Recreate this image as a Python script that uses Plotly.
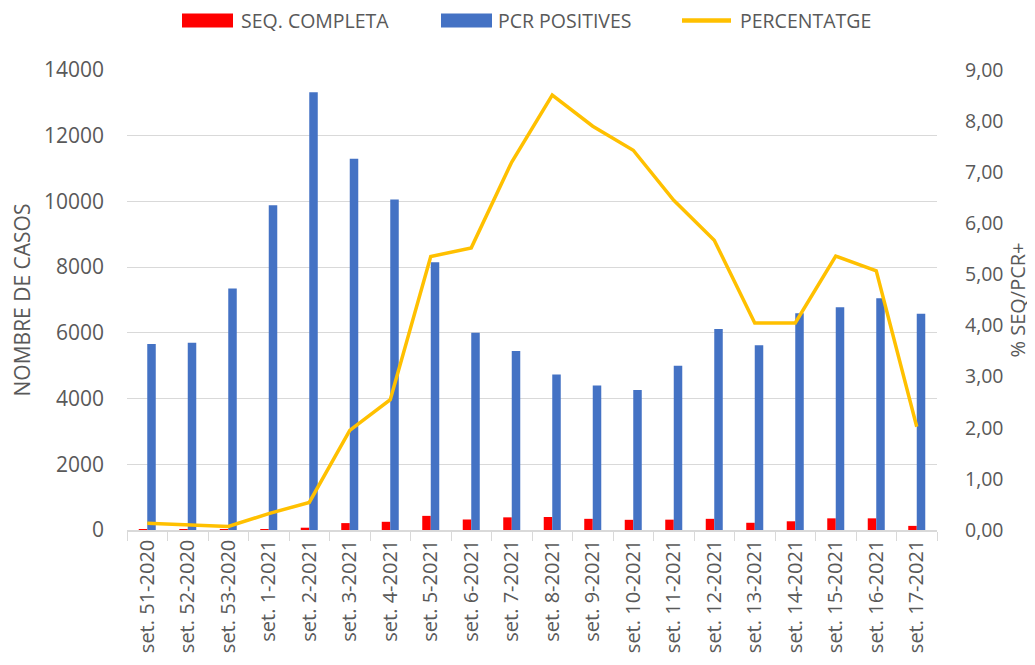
import plotly.graph_objects as go

categories = ["set. 51-2020", "set. 52-2020", "set. 53-2020", "set. 1-2021", "set. 2-2021",
              "set. 3-2021", "set. 4-2021", "set. 5-2021", "set. 6-2021", "set. 7-2021",
              "set. 8-2021", "set. 9-2021", "set. 10-2021", "set. 11-2021", "set. 12-2021",
              "set. 13-2021", "set. 14-2021", "set. 15-2021", "set. 16-2021", "set. 17-2021"]
seq_completa = [7, 6, 5, 30, 70, 210, 250, 430, 320, 385, 395, 340, 310, 315, 340, 220, 265, 355, 355, 125]
pcr_positives = [5660, 5700, 7350, 9880, 13320, 11300, 10060, 8150, 6000, 5450,
                 4730, 4400, 4260, 5000, 6120, 5620, 6600, 6780, 7050, 6580]
percentatge = [0.13, 0.10, 0.07, 0.32, 0.54, 1.95, 2.55, 5.35, 5.52, 7.20,
               8.51, 7.90, 7.43, 6.45, 5.67, 4.05, 4.05, 5.36, 5.07, 2.02]
series_names = ["SEQ. COMPLETA", "PCR POSITIVES", "PERCENTATGE"]
series_colors = ["#FF0000", "#4472C4", "#FFC000"]

font_family = "Open Sans, Liberation Sans, sans-serif"
grey = "#595959"

# page has an 8px body margin; plot area on page spans x 127..937, y 70..530
PL, PR, PT, PB = 127, 937, 70, 530
W, H = 1027, 657


def px(x):
    return (x - PL) / (PR - PL)


def py(y):
    return (PB - y) / (PB - PT)


fig = go.Figure()
fig.add_trace(go.Bar(x=categories, y=seq_completa, name=series_names[0], showlegend=False,
                     marker=dict(color=series_colors[0], line=dict(width=0))))
fig.add_trace(go.Bar(x=categories, y=pcr_positives, name=series_names[1], showlegend=False,
                     marker=dict(color=series_colors[1], line=dict(width=0))))
fig.add_trace(go.Scatter(x=categories, y=percentatge, name=series_names[2], yaxis="y2",
                         showlegend=False, mode="lines",
                         line=dict(color=series_colors[2], width=3.5)))

# custom legend (wide swatches like the original)
legend_swatch_x = [182, 441, 680]
legend_text_x = [240, 497, 739]
legend_y = 20.5
shapes = []
annotations = []
for i, name in enumerate(series_names):
    x0 = legend_swatch_x[i]
    if i < 2:
        shapes.append(dict(type="rect", xref="paper", yref="paper",
                           x0=px(x0), x1=px(x0 + 51), y0=py(legend_y + 7), y1=py(legend_y - 7),
                           fillcolor=series_colors[i], line=dict(width=0)))
    else:
        shapes.append(dict(type="line", xref="paper", yref="paper",
                           x0=px(x0 + 2), x1=px(x0 + 51), y0=py(legend_y), y1=py(legend_y),
                           line=dict(color=series_colors[i], width=4.5)))
    annotations.append(dict(text=name, xref="paper", yref="paper",
                            x=px(legend_text_x[i]), y=py(legend_y), xanchor="left", yanchor="middle",
                            showarrow=False, borderpad=0, font=dict(size=19.5, color=grey)))

fig.update_layout(
    width=W, height=H,
    margin=dict(l=PL - 8, r=W - (PR - 8), t=PT - 8, b=H - (PB - 8), autoexpand=False),
    paper_bgcolor="white", plot_bgcolor="white",
    font=dict(family=font_family, color=grey, size=20),
    separators=",.",
    barmode="group", bargap=0.58, bargroupgap=0.0,
    showlegend=False,
    shapes=shapes, annotations=annotations,
    xaxis=dict(showline=True, linecolor="#D9D9D9", linewidth=1.5, automargin=False,
               ticks="outside", tickson="boundaries", ticklen=9, tickcolor="#D9D9D9",
               tickangle=-90, tickfont=dict(size=20, color=grey), showgrid=False),
    yaxis=dict(range=[0, 14000], dtick=2000, showgrid=True, gridcolor="#D9D9D9",
               gridwidth=1, zeroline=False, tickfont=dict(size=21, color=grey),
               tickformat="d", ticklabelstandoff=22, automargin=False,
               title=dict(text="NOMBRE DE CASOS", font=dict(size=21, color=grey), standoff=8)),
    yaxis2=dict(range=[0, 9], dtick=1, overlaying="y", side="right", showgrid=False,
                zeroline=False, tickformat=".2f", ticklabelstandoff=27, automargin=False,
                tickfont=dict(size=19.5, color=grey),
                title=dict(text="% SEQ/PCR+", font=dict(size=20, color=grey), standoff=8)),
)

fig.write_html("out.html")
